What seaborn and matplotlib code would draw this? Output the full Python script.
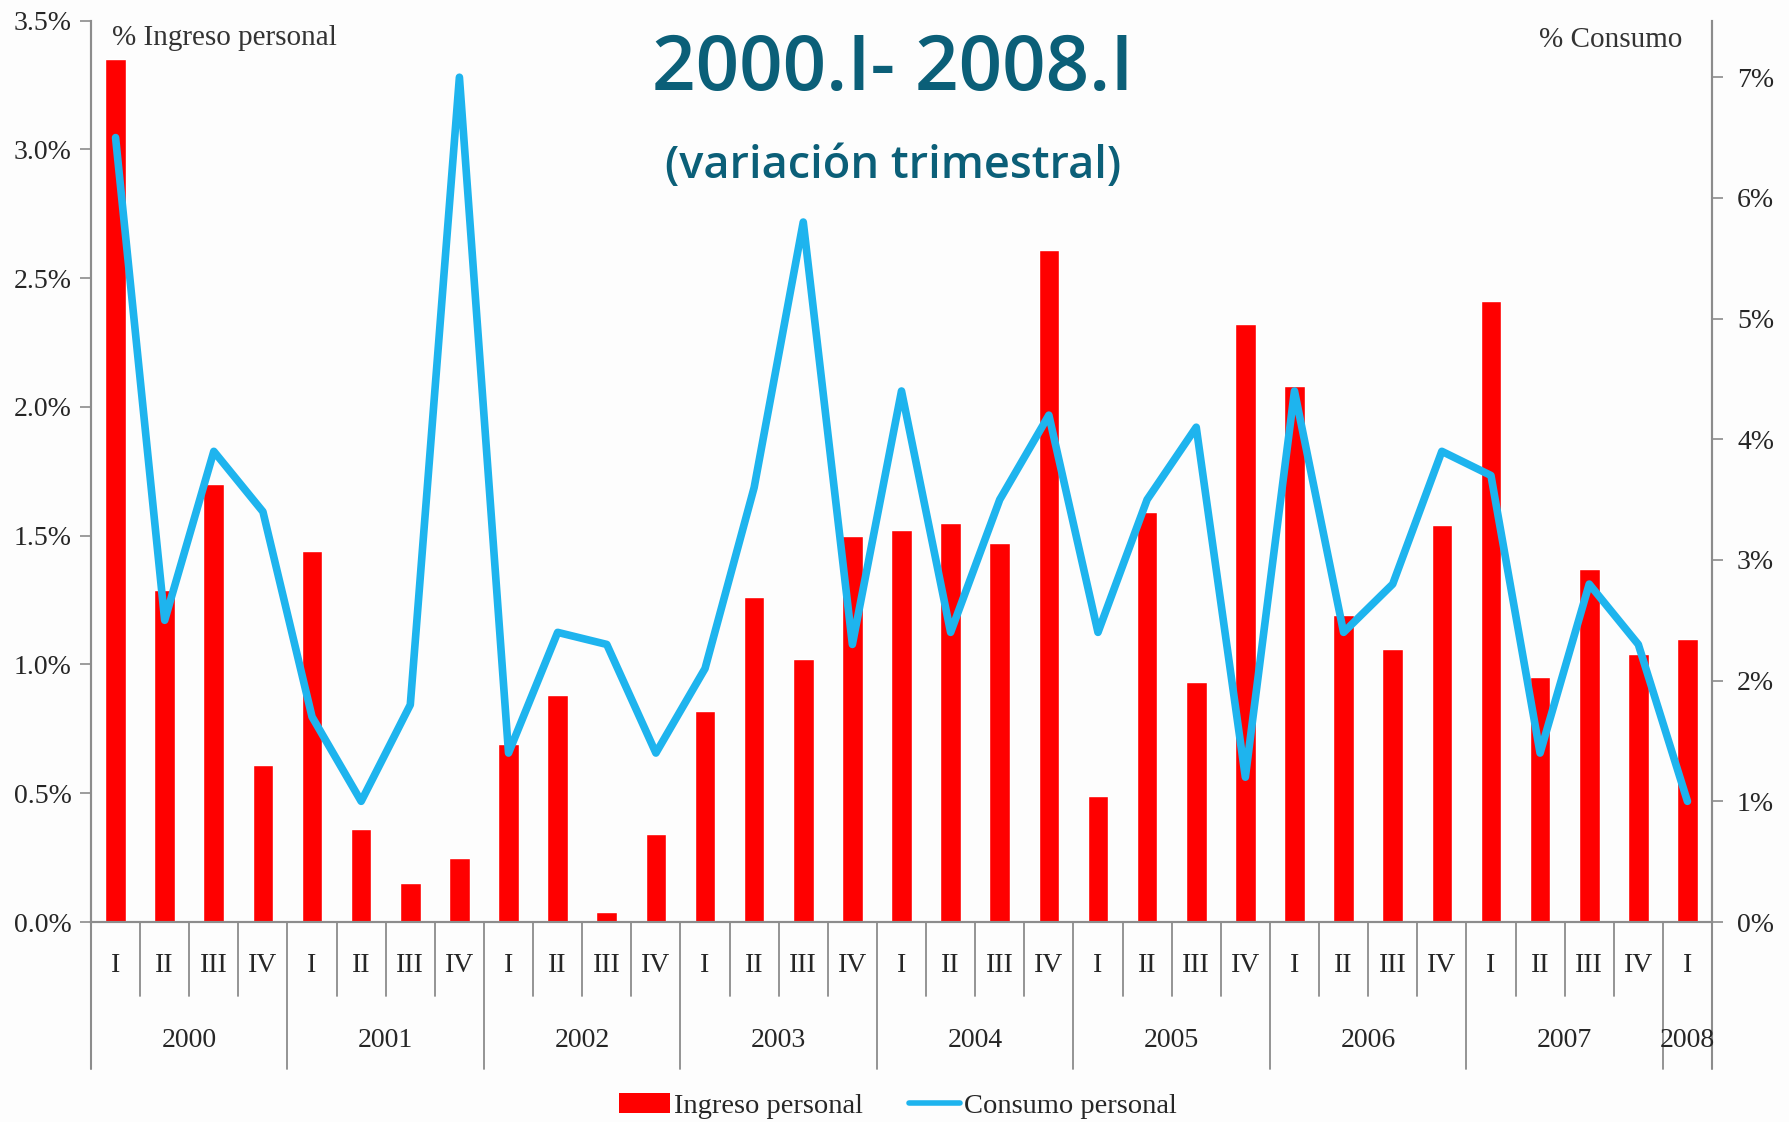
import numpy as np
import pandas as pd
import matplotlib
matplotlib.use('Agg')
import matplotlib.pyplot as plt
import matplotlib.transforms as mtransforms
from matplotlib.patches import Patch
from matplotlib.lines import Line2D
import seaborn as sns

sns.set_style('white')
plt.rcParams['font.family'] = ['Liberation Serif', 'DejaVu Serif']

# datos (variación trimestral, %)
years = ['2000', '2001', '2002', '2003', '2004', '2005', '2006', '2007', '2008']
quarters = ['I', 'II', 'III', 'IV'] * 8 + ['I']
year_of = [y for y in years[:-1] for _ in range(4)] + ['2008']

ingreso = [3.35, 1.29, 1.70, 0.61,
           1.44, 0.36, 0.15, 0.25,
           0.69, 0.88, 0.04, 0.34,
           0.82, 1.26, 1.02, 1.50,
           1.52, 1.55, 1.47, 2.61,
           0.49, 1.59, 0.93, 2.32,
           2.08, 1.19, 1.06, 1.54,
           2.41, 0.95, 1.37, 1.04,
           1.10]
consumo = [6.5, 2.5, 3.9, 3.4,
           1.7, 1.0, 1.8, 7.0,
           1.4, 2.4, 2.3, 1.4,
           2.1, 3.6, 5.8, 2.3,
           4.4, 2.4, 3.5, 4.2,
           2.4, 3.5, 4.1, 1.2,
           4.4, 2.4, 2.8, 3.9,
           3.7, 1.4, 2.8, 2.3,
           1.0]

df = pd.DataFrame({'pos': np.arange(len(ingreso)), 'quarter': quarters,
                   'year': year_of, 'ingreso': ingreso, 'consumo': consumo})

RED = '#ff0000'
BLUE = '#1eb4ee'
TEAL = '#0b5f78'
GRAY = '#8c8c8c'

fig = plt.figure(figsize=(17.89, 11.22), dpi=100)
fig.patch.set_facecolor('#fdfdfd')
ax = fig.add_axes([91 / 1789, 1 - 922 / 1122, 1621 / 1789, 901.5 / 1122])
ax.set_facecolor('none')

sns.barplot(data=df, x='pos', y='ingreso', color=RED, width=0.42,
            saturation=1, ax=ax, native_scale=True)
ax.set_xlim(-0.5, len(df) - 0.5)
ax.set_ylim(0, 3.5)
ax.set_yticks(np.arange(0, 3.51, 0.5))
ax.set_yticklabels([f'{v:.1f}%' for v in np.arange(0, 3.51, 0.5)], fontsize=20)
ax.set_xticks(df['pos'])
ax.set_xticklabels(df['quarter'], fontsize=20)
ax.tick_params(axis='x', length=0, pad=22)
ax.tick_params(axis='y', length=8, width=1.2, color=GRAY, direction='out', pad=6)
ax.set_xlabel('')
ax.set_ylabel('')

ax2 = ax.twinx()
sns.lineplot(data=df, x='pos', y='consumo', color=BLUE, linewidth=5.5, ax=ax2)
ax2.set_ylim(0, 7.47)
ax2.set_yticks(range(0, 8))
ax2.set_yticklabels([f'{v}%' for v in range(0, 8)], fontsize=20)
ax2.tick_params(axis='y', length=8, width=1.2, color=GRAY, direction='out', pad=10)
ax2.set_xlabel('')
ax2.set_ylabel('')
ax2.set_xlim(-0.5, len(df) - 0.5)

for a in (ax, ax2):
    for s in a.spines.values():
        s.set_color(GRAY)
        s.set_linewidth(1.5)
    a.spines['top'].set_visible(False)

# ejes de categorías con separadores
trans = mtransforms.blended_transform_factory(ax.transData, ax.transAxes)
for i in range(len(df) - 1):
    x = df['pos'][i] + 0.5
    if df['year'][i] != df['year'][i + 1]:
        ax.plot([x, x], [0, -0.163], color=GRAY, lw=1.3, transform=trans, clip_on=False)
    else:
        ax.plot([x, x], [0, -0.082], color=GRAY, lw=1.3, transform=trans, clip_on=False)
for x in (-0.5, len(df) - 0.5):
    ax.plot([x, x], [0, -0.163], color=GRAY, lw=1.5, transform=trans, clip_on=False)

for y in years:
    p = df.loc[df['year'] == y, 'pos']
    ax.text((p.min() + p.max()) / 2, -0.131, y, transform=trans, ha='center',
            va='center', fontsize=20)

ax.text(0.013, 0.981, '% Ingreso personal', transform=ax.transAxes, ha='left',
        va='center', fontsize=21, color='#333333')
ax.text(0.982, 0.978, '% Consumo', transform=ax.transAxes, ha='right',
        va='center', fontsize=21, color='#333333')

fig.text(0.499, 0.938, '2000.I- 2008.I', ha='center', va='center', fontsize=55,
         fontweight='semibold', color=TEAL, family=['Open Sans', 'DejaVu Sans'])
fig.text(0.499, 0.852, '(variación trimestral)', ha='center', va='center',
         fontsize=32.5, fontweight='semibold', color=TEAL, family=['Open Sans', 'DejaVu Sans'])

handles = [Patch(facecolor=RED, edgecolor='none', label='Ingreso personal'),
           Line2D([0], [0], color=BLUE, lw=4, label='Consumo personal')]
fig.legend(handles=handles, loc='center', bbox_to_anchor=(0.502, 0.014), ncol=2,
           frameon=False, fontsize=20.5, handlelength=1.8, handletextpad=0.15,
           columnspacing=1.6)

plt.savefig('out.png', dpi=100, facecolor=fig.get_facecolor())
